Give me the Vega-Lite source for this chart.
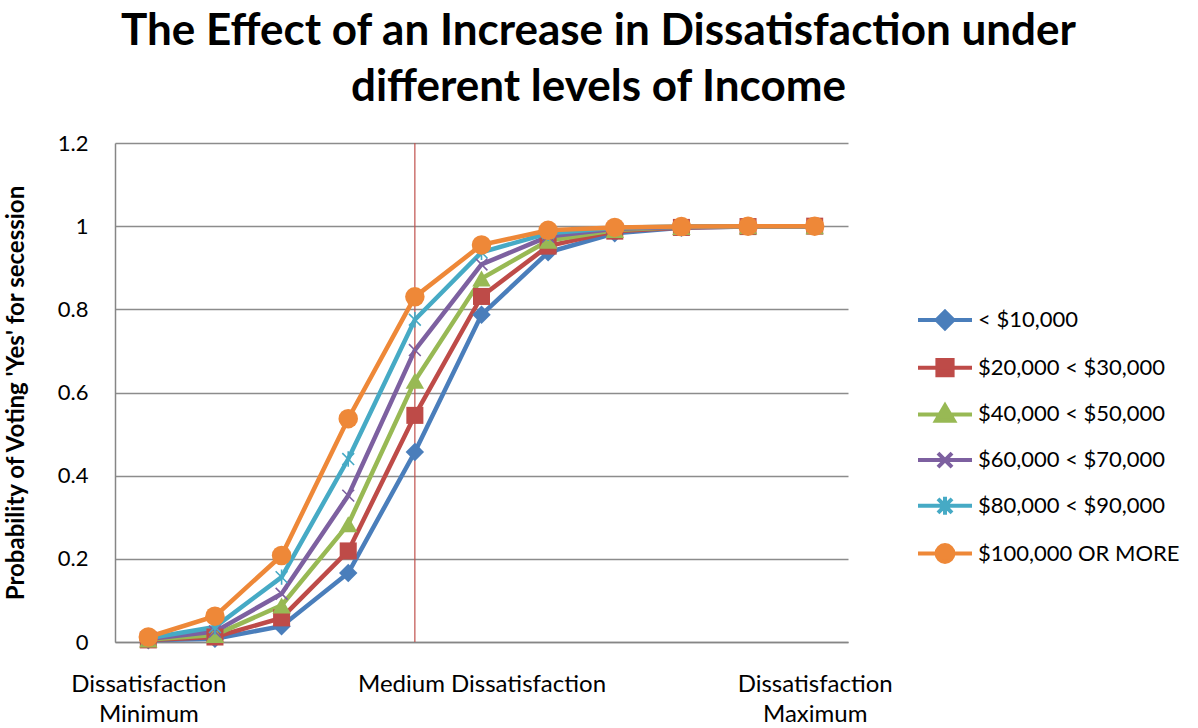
{
  "$schema": "https://vega.github.io/schema/vega-lite/v6.json",
  "width": 733,
  "height": 499,
  "autosize": {"type": "none"},
  "padding": {"left": 115, "top": 143, "right": 350, "bottom": 86},
  "background": "white",
  "config": {
    "view": {"stroke": null},
    "font": "Lato"
  },
  "title": {
    "text": ["The Effect of an Increase in Dissatisfaction under", "different levels of Income"],
    "font": "Lato",
    "fontSize": 44,
    "fontWeight": "bold",
    "lineHeight": 56,
    "anchor": "middle",
    "dx": 117,
    "offset": 22,
    "color": "black"
  },
  "datasets": {
    "curves": [
      {"x": 1, "series": "< $10,000", "p": 0.004},
      {"x": 2, "series": "< $10,000", "p": 0.008},
      {"x": 3, "series": "< $10,000", "p": 0.038},
      {"x": 4, "series": "< $10,000", "p": 0.166},
      {"x": 5, "series": "< $10,000", "p": 0.457},
      {"x": 6, "series": "< $10,000", "p": 0.787},
      {"x": 7, "series": "< $10,000", "p": 0.937},
      {"x": 8, "series": "< $10,000", "p": 0.983},
      {"x": 9, "series": "< $10,000", "p": 0.996},
      {"x": 10, "series": "< $10,000", "p": 0.999},
      {"x": 11, "series": "< $10,000", "p": 1.0},
      {"x": 1, "series": "$20,000  < $30,000", "p": 0.005},
      {"x": 2, "series": "$20,000  < $30,000", "p": 0.012},
      {"x": 3, "series": "$20,000  < $30,000", "p": 0.058},
      {"x": 4, "series": "$20,000  < $30,000", "p": 0.219},
      {"x": 5, "series": "$20,000  < $30,000", "p": 0.545},
      {"x": 6, "series": "$20,000  < $30,000", "p": 0.831},
      {"x": 7, "series": "$20,000  < $30,000", "p": 0.952},
      {"x": 8, "series": "$20,000  < $30,000", "p": 0.988},
      {"x": 9, "series": "$20,000  < $30,000", "p": 0.997},
      {"x": 10, "series": "$20,000  < $30,000", "p": 0.999},
      {"x": 11, "series": "$20,000  < $30,000", "p": 1.0},
      {"x": 1, "series": "$40,000  < $50,000", "p": 0.006},
      {"x": 2, "series": "$40,000  < $50,000", "p": 0.017},
      {"x": 3, "series": "$40,000  < $50,000", "p": 0.088},
      {"x": 4, "series": "$40,000  < $50,000", "p": 0.283},
      {"x": 5, "series": "$40,000  < $50,000", "p": 0.628},
      {"x": 6, "series": "$40,000  < $50,000", "p": 0.874},
      {"x": 7, "series": "$40,000  < $50,000", "p": 0.965},
      {"x": 8, "series": "$40,000  < $50,000", "p": 0.991},
      {"x": 9, "series": "$40,000  < $50,000", "p": 0.998},
      {"x": 10, "series": "$40,000  < $50,000", "p": 1.0},
      {"x": 11, "series": "$40,000  < $50,000", "p": 1.0},
      {"x": 1, "series": "$60,000  < $70,000", "p": 0.007},
      {"x": 2, "series": "$60,000  < $70,000", "p": 0.025},
      {"x": 3, "series": "$60,000  < $70,000", "p": 0.116},
      {"x": 4, "series": "$60,000  < $70,000", "p": 0.352},
      {"x": 5, "series": "$60,000  < $70,000", "p": 0.702},
      {"x": 6, "series": "$60,000  < $70,000", "p": 0.908},
      {"x": 7, "series": "$60,000  < $70,000", "p": 0.975},
      {"x": 8, "series": "$60,000  < $70,000", "p": 0.994},
      {"x": 9, "series": "$60,000  < $70,000", "p": 0.998},
      {"x": 10, "series": "$60,000  < $70,000", "p": 1.0},
      {"x": 11, "series": "$60,000  < $70,000", "p": 1.0},
      {"x": 1, "series": "$80,000  < $90,000", "p": 0.009},
      {"x": 2, "series": "$80,000  < $90,000", "p": 0.036},
      {"x": 3, "series": "$80,000  < $90,000", "p": 0.156},
      {"x": 4, "series": "$80,000  < $90,000", "p": 0.44},
      {"x": 5, "series": "$80,000  < $90,000", "p": 0.775},
      {"x": 6, "series": "$80,000  < $90,000", "p": 0.937},
      {"x": 7, "series": "$80,000  < $90,000", "p": 0.983},
      {"x": 8, "series": "$80,000  < $90,000", "p": 0.996},
      {"x": 9, "series": "$80,000  < $90,000", "p": 0.999},
      {"x": 10, "series": "$80,000  < $90,000", "p": 1.0},
      {"x": 11, "series": "$80,000  < $90,000", "p": 1.0},
      {"x": 1, "series": "$100,000  OR MORE", "p": 0.012},
      {"x": 2, "series": "$100,000  OR MORE", "p": 0.062},
      {"x": 3, "series": "$100,000  OR MORE", "p": 0.208},
      {"x": 4, "series": "$100,000  OR MORE", "p": 0.537},
      {"x": 5, "series": "$100,000  OR MORE", "p": 0.83},
      {"x": 6, "series": "$100,000  OR MORE", "p": 0.955},
      {"x": 7, "series": "$100,000  OR MORE", "p": 0.99},
      {"x": 8, "series": "$100,000  OR MORE", "p": 0.997},
      {"x": 9, "series": "$100,000  OR MORE", "p": 0.999},
      {"x": 10, "series": "$100,000  OR MORE", "p": 1.0},
      {"x": 11, "series": "$100,000  OR MORE", "p": 1.0}
    ],
    "marker": [{"x": 5, "label": "Medium"}]
  },
  "data": {"name": "curves"},
  "encoding": {
    "x": {
      "field": "x",
      "type": "ordinal",
      "scale": {"type": "point", "padding": 0.5, "domain": [1,2,3,4,5,6,7,8,9,10,11]},
      "axis": {
        "title": null,
        "labelAngle": 0,
        "ticks": false,
        "grid": false,
        "domainColor": "#868686",
        "domainWidth": 1.5,
        "labelFont": "Lato",
        "labelFontSize": 24,
        "labelColor": "black",
        "labelPadding": 30,
        "labelLineHeight": 30,
        "labelLimit": 400,
        "labelOverlap": false,
        "labelBound": false,
        "labelExpr": "datum.value == 1 ? ['Dissatisfaction', 'Minimum'] : datum.value == 6 ? 'Medium Dissatisfaction' : datum.value == 11 ? ['Dissatisfaction', 'Maximum'] : ''"
      }
    },
    "y": {
      "field": "p",
      "type": "quantitative",
      "scale": {"domain": [0, 1.2], "nice": false},
      "axis": {
        "values": [0, 0.2, 0.4, 0.6, 0.8, 1, 1.2],
        "format": ".1~f",
        "grid": true,
        "gridColor": "#8c8c8c",
        "gridWidth": 1.5,
        "domainColor": "#868686",
        "domainWidth": 1.5,
        "ticks": false,
        "labelPadding": 27,
        "labelFont": "Lato",
        "labelFontSize": 22,
        "labelColor": "black",
        "title": "Probability of Voting 'Yes' for secession",
        "titleFont": "Lato",
        "titleFontSize": 24,
        "titleFontWeight": "bold",
        "titleColor": "black",
        "titleX": -87,
        "titleY": 249.5
      }
    },
    "color": {
      "field": "series",
      "type": "nominal",
      "scale": {
        "domain": ["< $10,000", "$20,000  < $30,000", "$40,000  < $50,000", "$60,000  < $70,000", "$80,000  < $90,000", "$100,000  OR MORE"],
        "range": ["#4A7EBB", "#BE4B48", "#98B954", "#7D60A0", "#46AAC5", "#EE8838"]
      },
      "legend": {
        "title": null,
        "orient": "none",
        "legendX": 808,
        "legendY": 155,
        "labelFont": "Lato",
        "labelFontSize": 22,
        "labelColor": "black",
        "labelLimit": 400,
        "symbolSize": 1600,
        "rowPadding": 8.7,
        "labelOffset": 11,
        "encode": {
          "symbols": {
            "update": {
              "shape": {"signal": "['M-1.35,0H1.35M0,-0.42L0.42,0L0,0.42L-0.42,0Z', 'M-1.35,0H1.35M-0.38,-0.38H0.38V0.38H-0.38Z', 'M-1.35,0H1.35M0,-0.45L0.45,0.32H-0.45Z', 'M-1.35,0H1.35M-0.35,-0.35L0.35,0.35M-0.35,0.35L0.35,-0.35', 'M-1.35,0H1.35M-0.35,-0.35L0.35,0.35M-0.35,0.35L0.35,-0.35M0,-0.45V0.45', 'M-1.35,0H1.35M-0.42,0A0.42,0.42 0 1,0 0.42,0A0.42,0.42 0 1,0 -0.42,0Z'][datum.index]"},
              "fill": {"scale": "color", "field": "value"},
              "stroke": {"scale": "color", "field": "value"},
              "strokeWidth": {"value": 4},
              "opacity": {"value": 1},
              "fillOpacity": {"value": 1}
            }
          }
        }
      }
    }
  },
  "layer": [
    {
      "mark": {"type": "line", "strokeWidth": 4.5}
    },
    {
      "data": {"name": "marker"},
      "mark": {"type": "rule", "color": "#C0504D", "strokeWidth": 1.2},
      "encoding": {"y": null, "color": null}
    },
    {
      "transform": [{"filter": "datum.series == '< $10,000'"}],
      "mark": {"type": "point", "filled": true, "opacity": 1, "shape": "diamond", "size": 340}
    },
    {
      "transform": [{"filter": "datum.series == '$20,000  < $30,000'"}],
      "mark": {"type": "point", "filled": true, "opacity": 1, "shape": "square", "size": 290}
    },
    {
      "transform": [{"filter": "datum.series == '$40,000  < $50,000'"}],
      "mark": {"type": "point", "filled": true, "opacity": 1, "shape": "triangle-up", "size": 340}
    },
    {
      "transform": [{"filter": "datum.series == '$60,000  < $70,000'"}],
      "mark": {"type": "point", "filled": false, "opacity": 1, "strokeWidth": 1.6, "shape": "M-1,-1L1,1M-1,1L1,-1", "size": 140}
    },
    {
      "transform": [{"filter": "datum.series == '$80,000  < $90,000'"}],
      "mark": {"type": "point", "filled": false, "opacity": 1, "strokeWidth": 1.6, "shape": "M-1,-1L1,1M-1,1L1,-1M0,-1.3V1.3", "size": 140}
    },
    {
      "transform": [{"filter": "datum.series == '$100,000  OR MORE'"}],
      "mark": {"type": "point", "filled": true, "opacity": 1, "shape": "circle", "size": 380}
    }
  ]
}
